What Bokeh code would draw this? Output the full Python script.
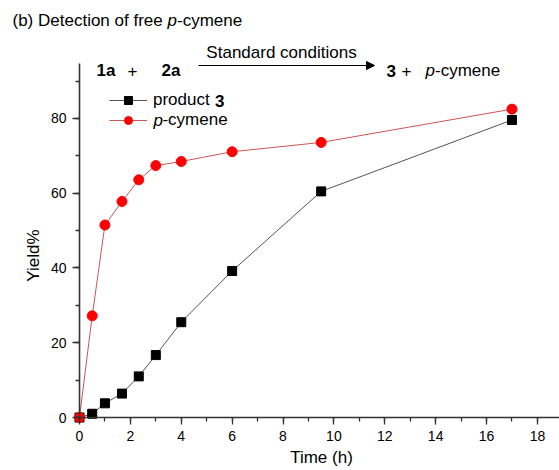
import math
from bokeh.plotting import figure
from bokeh.models import (Label, Arrow, NormalHead, Legend, LegendItem,
                          SingleIntervalTicker, Range1d)
from bokeh.embed import file_html
from bokeh.resources import INLINE

# ---- data ----
time_product = [0, 0.5, 1, 1.67, 2.33, 3, 4, 6, 9.5, 17]
yield_product = [0, 1.0, 3.8, 6.4, 11.0, 16.7, 25.5, 39.2, 60.5, 79.6]
time_cymene = [0, 0.5, 1, 1.67, 2.33, 3, 4, 6, 9.5, 17]
yield_cymene = [0, 27.2, 51.5, 57.8, 63.6, 67.4, 68.5, 71.1, 73.6, 82.5]
x_tick_interval = 2
y_tick_interval = 20
x_axis_max = 18.87
y_axis_max = 94.7

FONT = "Liberation Sans"
FS = "17px"

W, H = 559, 470
p = figure(width=W, height=H, output_backend="svg", toolbar_location=None,
           x_range=Range1d(-3.105, 18.868), y_range=Range1d(-14.18, 111.57),
           min_border_left=0, min_border_right=0, min_border_top=0,
           min_border_bottom=0, title=None)
p.xgrid.visible = False
p.ygrid.visible = False
p.outline_line_color = None
p.background_fill_color = "white"
p.border_fill_color = "white"

p.xaxis.ticker = SingleIntervalTicker(interval=x_tick_interval, num_minor_ticks=2)
p.yaxis.ticker = SingleIntervalTicker(interval=y_tick_interval, num_minor_ticks=2)
p.xaxis.fixed_location = 0
p.yaxis.fixed_location = 0
p.xaxis.bounds = (0, x_axis_max)
p.yaxis.bounds = (0, y_axis_max)
for ax in (p.xaxis, p.yaxis):
    ax.axis_line_color = "#333333"
    ax.axis_line_width = 1.6
    ax.major_tick_line_color = "#333333"
    ax.minor_tick_line_color = "#333333"
    ax.major_tick_line_width = 1.3
    ax.minor_tick_line_width = 1.3
    ax.major_tick_out = 7
    ax.major_tick_in = 0
    ax.minor_tick_out = 4
    ax.minor_tick_in = 0
    ax.major_label_text_font = FONT
    ax.major_label_text_font_size = "14px"
    ax.major_label_text_color = "black"
    ax.major_label_standoff = 6

r1l = p.line(time_product, yield_product, line_color="#555555", line_width=1)
r1s = p.scatter(time_product, yield_product, marker="square", size=9,
                fill_color="black", line_color="black")
r2l = p.line(time_cymene, yield_cymene, line_color="#cc5555", line_width=1)
r2s = p.scatter(time_cymene, yield_cymene, marker="circle", size=10,
                fill_color="#ff0000", line_color="#ff0000")

legend = Legend(items=[LegendItem(label="product", renderers=[r1l, r1s]),
                       LegendItem(label="\u00a0\u00a0-cymene", renderers=[r2l, r2s])],
                location=(109, H - 130), padding=0, margin=0, spacing=0,
                glyph_width=38, glyph_height=20, label_height=20, label_standoff=6,
                border_line_color=None, background_fill_alpha=0,
                label_text_font=FONT, label_text_font_size=FS,
                label_text_color="black")
p.add_layout(legend)


def lbl(text, x, y, style="normal", align="left", baseline="middle", angle=0, size=FS):
    # x, y given in page pixels from the top-left corner
    p.add_layout(Label(x=x, y=H - y, x_units="screen", y_units="screen", text=text,
                       text_font=FONT, text_font_size=size, text_font_style=style,
                       text_align=align, text_baseline=baseline, angle=angle,
                       text_color="black"))

# legend styled parts
lbl("3", 214.4, 100, style="bold")
lbl("p", 153, 120, style="italic")

# title
lbl("(b) Detection of free ", 12, 20)
lbl("p", 167, 20, style="italic")
lbl("-cymene", 176.5, 20)

# reaction scheme
lbl("1a", 96, 70, style="bold")
lbl("+", 132, 70, align="center")
lbl("2a", 161, 70, style="bold")
lbl("Standard conditions", 281, 52, align="center")
p.add_layout(Arrow(end=NormalHead(size=8, fill_color="black", line_color="black"),
                   x_start=198, y_start=H - 65, x_end=374, y_end=H - 65,
                   start_units="screen", end_units="screen",
                   line_color="black", line_width=1))
lbl("3", 386, 70, style="bold")
lbl("+", 406, 70, align="center")
lbl("p", 425, 70, style="italic")
lbl("-cymene", 434.5, 70)

# axis titles
lbl("Time (h)", 321, 457, align="center")
lbl("Yield%", 33, 255, align="center", angle=math.pi / 2)

open("out.html", "w").write(file_html(p, INLINE))
